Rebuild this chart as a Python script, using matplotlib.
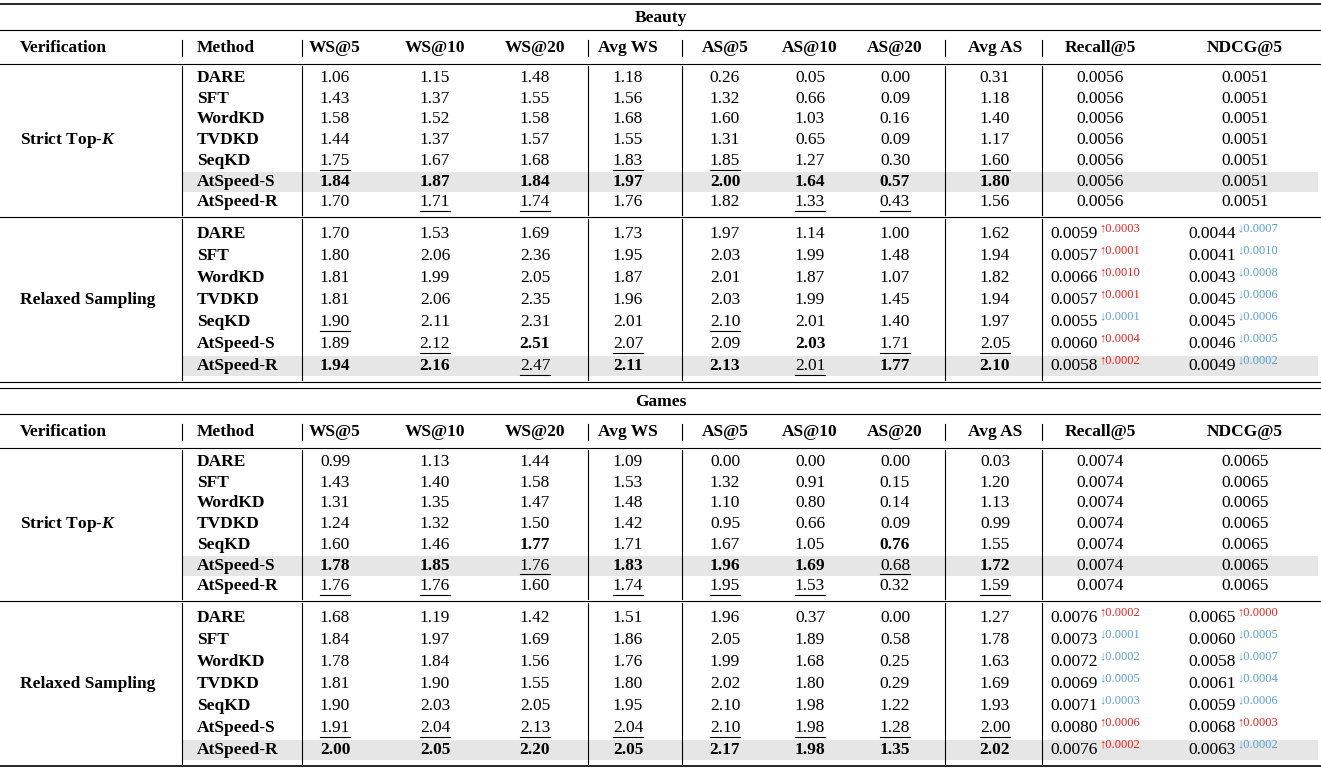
import matplotlib
matplotlib.use("Agg")
import matplotlib.pyplot as plt

plt.rcParams['font.family'] = ['Liberation Serif', 'DejaVu Serif']
plt.rcParams['mathtext.fontset'] = 'custom'
plt.rcParams['mathtext.it'] = 'Liberation Serif:italic:bold'
plt.rcParams['mathtext.rm'] = 'Liberation Serif:bold'

headers = ["Verification", "Method", "WS@5", "WS@10", "WS@20", "Avg WS",
           "AS@5", "AS@10", "AS@20", "Avg AS", "Recall@5", "NDCG@5"]
methods = ["DARE", "SFT", "WordKD", "TVDKD", "SeqKD", "AtSpeed-S", "AtSpeed-R"]
verif = ["Strict Top-$K$", "Relaxed Sampling"]

# "*" prefix = bold, "_" prefix = underlined
beauty_strict = [
    "1.06 1.15 1.48 1.18 0.26 0.05 0.00 0.31",
    "1.43 1.37 1.55 1.56 1.32 0.66 0.09 1.18",
    "1.58 1.52 1.58 1.68 1.60 1.03 0.16 1.40",
    "1.44 1.37 1.57 1.55 1.31 0.65 0.09 1.17",
    "_1.75 1.67 1.68 _1.83 _1.85 1.27 0.30 _1.60",
    "*1.84 *1.87 *1.84 *1.97 *2.00 *1.64 *0.57 *1.80",
    "1.70 _1.71 _1.74 1.76 1.82 _1.33 _0.43 1.56",
]
beauty_relaxed = [
    "1.70 1.53 1.69 1.73 1.97 1.14 1.00 1.62",
    "1.80 2.06 2.36 1.95 2.03 1.99 1.48 1.94",
    "1.81 1.99 2.05 1.87 2.01 1.87 1.07 1.82",
    "1.81 2.06 2.35 1.96 2.03 1.99 1.45 1.94",
    "_1.90 2.11 2.31 2.01 _2.10 2.01 1.40 1.97",
    "1.89 _2.12 *2.51 _2.07 2.09 *2.03 _1.71 _2.05",
    "*1.94 *2.16 _2.47 *2.11 *2.13 _2.01 *1.77 *2.10",
]
beauty_strict_rec = ["0.0056", "0.0051"]
beauty_relaxed_rec = [
    ("0.0059", "+0.0003", "0.0044", "-0.0007"),
    ("0.0057", "+0.0001", "0.0041", "-0.0010"),
    ("0.0066", "+0.0010", "0.0043", "-0.0008"),
    ("0.0057", "+0.0001", "0.0045", "-0.0006"),
    ("0.0055", "-0.0001", "0.0045", "-0.0006"),
    ("0.0060", "+0.0004", "0.0046", "-0.0005"),
    ("0.0058", "+0.0002", "0.0049", "-0.0002"),
]
games_strict = [
    "0.99 1.13 1.44 1.09 0.00 0.00 0.00 0.03",
    "1.43 1.40 1.58 1.53 1.32 0.91 0.15 1.20",
    "1.31 1.35 1.47 1.48 1.10 0.80 0.14 1.13",
    "1.24 1.32 1.50 1.42 0.95 0.66 0.09 0.99",
    "1.60 1.46 *1.77 1.71 1.67 1.05 *0.76 1.55",
    "*1.78 *1.85 _1.76 *1.83 *1.96 *1.69 _0.68 *1.72",
    "_1.76 _1.76 1.60 _1.74 _1.95 _1.53 0.32 _1.59",
]
games_relaxed = [
    "1.68 1.19 1.42 1.51 1.96 0.37 0.00 1.27",
    "1.84 1.97 1.69 1.86 2.05 1.89 0.58 1.78",
    "1.78 1.84 1.56 1.76 1.99 1.68 0.25 1.63",
    "1.81 1.90 1.55 1.80 2.02 1.80 0.29 1.69",
    "1.90 2.03 2.05 1.95 2.10 1.98 1.22 1.93",
    "_1.91 _2.04 _2.13 _2.04 _2.10 _1.98 _1.28 _2.00",
    "*2.00 *2.05 *2.20 *2.05 *2.17 *1.98 *1.35 *2.02",
]
games_strict_rec = ["0.0074", "0.0065"]
games_relaxed_rec = [
    ("0.0076", "+0.0002", "0.0065", "+0.0000"),
    ("0.0073", "-0.0001", "0.0060", "-0.0005"),
    ("0.0072", "-0.0002", "0.0058", "-0.0007"),
    ("0.0069", "-0.0005", "0.0061", "-0.0004"),
    ("0.0071", "-0.0003", "0.0059", "-0.0006"),
    ("0.0080", "+0.0006", "0.0068", "+0.0003"),
    ("0.0076", "+0.0002", "0.0063", "-0.0002"),
]

W, H = 1321, 773
fig = plt.figure(figsize=(W / 100, H / 100), dpi=100)
ax = fig.add_axes([0, 0, 1, 1])
ax.set_xlim(0, W)
ax.set_ylim(H, 0)
ax.axis('off')

FS = 12.5
col_x = [20, 197, 335, 435, 535, 628, 725, 810, 895, 995, 1100, 1245]
vlines = [182, 302, 588, 682, 945, 1042]
underlines = []


def cell(x, y, s, ha='center'):
    bold = s.startswith('*')
    under = s.startswith('_')
    s = s.lstrip('*_')
    t = ax.text(x, y, s, ha=ha, va='center', fontsize=FS,
                fontweight='bold' if bold else 'normal')
    if under:
        underlines.append(t)


def rec_cell(x, y, val, delta):
    ax.text(x, y, val, ha='right', va='center', fontsize=FS)
    up = delta.startswith('+')
    ax.text(x + 1, y - 6, ('\u2191' if up else '\u2193') + delta[1:], ha='left',
            va='center', fontsize=9, color='#e8201a' if up else '#5a9fd4',
            family=['DejaVu Sans'] if False else ['Liberation Serif', 'DejaVu Sans'])


def block(y0, title, strict, relaxed, strict_rec, relaxed_rec):
    ax.plot([0, W], [y0 - 14, y0 - 14], color='k', lw=1.2 if y0 < 50 else 0.8)
    ax.text(W / 2, y0, title, ha='center', va='center', fontsize=FS, fontweight='bold')
    ax.plot([0, W], [y0 + 12, y0 + 12], color='k', lw=0.8)
    hy = y0 + 30
    for i, h in enumerate(headers):
        ax.text(col_x[i], hy, h, ha='left' if i < 2 else 'center', va='center',
                fontsize=FS, fontweight='bold')
    ax.plot([0, W], [hy + 16, hy + 16], color='k', lw=0.8)
    rows_y = [[hy + 30 + 20.7 * k for k in range(7)],
              [hy + 186 + 22 * k for k in range(7)]]
    ax.plot([0, W], [hy + 169, hy + 169], color='k', lw=0.8)
    for g, (data, ys) in enumerate(zip([strict, relaxed], rows_y)):
        hl = 5 if g == 0 else 6
        ax.fill_between([183, W - 3], ys[hl] - 10, ys[hl] + 10, color='#e6e6e6', lw=0)
        ax.text(col_x[0], (ys[0] + ys[-1]) / 2, verif[g], ha='left', va='center',
                fontsize=FS, fontweight='bold')
        for k, y in enumerate(ys):
            ax.text(col_x[1], y, methods[k], ha='left', va='center',
                    fontsize=FS, fontweight='bold')
            for j, v in enumerate(data[k].split()):
                cell(col_x[2 + j], y, v)
            if g == 0:
                cell(col_x[10], y, strict_rec[0])
                cell(col_x[11], y, strict_rec[1])
            else:
                r = relaxed_rec[k]
                rec_cell(1098, y, r[0], r[1])
                rec_cell(1236, y, r[2], r[3])
    for vx in vlines:
        ax.plot([vx, vx], [hy - 8, hy + 8], color='k', lw=0.8)
        ax.plot([vx, vx], [hy + 18, hy + 167], color='k', lw=0.8)
        ax.plot([vx, vx], [hy + 171, hy + 168 + 164], color='k', lw=0.8)
    return hy + 168 + 166


end = block(18, "Beauty", beauty_strict, beauty_relaxed, beauty_strict_rec, beauty_relaxed_rec)
ax.plot([0, W], [end, end], color='k', lw=0.8)
block(402, "Games", games_strict, games_relaxed, games_strict_rec, games_relaxed_rec)
ax.plot([0, W], [766, 766], color='k', lw=1.2)

fig.canvas.draw()
inv = ax.transData.inverted()
for t in underlines:
    bb = t.get_window_extent()
    (x0, y0), (x1, y1) = inv.transform([[bb.x0, bb.y0], [bb.x1, bb.y1]])
    ax.plot([x0, x1], [y0 + 1, y0 + 1], color='k', lw=0.8)

fig.savefig("out.png", dpi=100)
